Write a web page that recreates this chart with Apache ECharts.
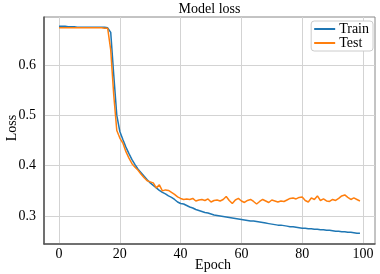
<!DOCTYPE html>
<html>
<head>
<meta charset="utf-8">
<script src="https://cdn.jsdelivr.net/npm/echarts@6/dist/echarts.min.js"></script>
<style>
  html, body { margin: 0; padding: 0; background: #fff; }
  #chart { width: 380px; height: 274px; }
</style>
</head>
<body>
<div id="chart"></div>
<script>
// loss per epoch
var trainLoss = [
  0.677, 0.677, 0.677, 0.676, 0.676, 0.676, 0.675, 0.675, 0.675, 0.675,
  0.675, 0.675, 0.675, 0.675, 0.675, 0.675, 0.674, 0.665, 0.580, 0.500,
  0.468, 0.452, 0.437, 0.424, 0.412, 0.402, 0.393, 0.386, 0.379, 0.372,
  0.366, 0.361, 0.356, 0.351, 0.347, 0.344, 0.340, 0.337, 0.333, 0.328,
  0.325, 0.324, 0.321, 0.318, 0.316, 0.313, 0.311, 0.309, 0.307, 0.306,
  0.304, 0.302, 0.301, 0.300, 0.299, 0.298, 0.297, 0.296, 0.295, 0.294,
  0.293, 0.292, 0.291, 0.290, 0.290, 0.289, 0.288, 0.287, 0.286, 0.285,
  0.284, 0.283, 0.282, 0.282, 0.281, 0.280, 0.279, 0.279, 0.278, 0.277,
  0.276, 0.276, 0.275, 0.275, 0.274, 0.274, 0.273, 0.273, 0.272, 0.272,
  0.271, 0.270, 0.270, 0.269, 0.269, 0.268, 0.268, 0.267, 0.266, 0.266
];
var testLoss = [
  0.674, 0.674, 0.674, 0.674, 0.674, 0.674, 0.674, 0.674, 0.674, 0.674,
  0.674, 0.674, 0.674, 0.674, 0.674, 0.673, 0.673, 0.630, 0.540, 0.470,
  0.455, 0.445, 0.428, 0.415, 0.404, 0.397, 0.391, 0.383, 0.376, 0.370,
  0.368, 0.366, 0.356, 0.362, 0.350, 0.352, 0.351, 0.347, 0.343, 0.338,
  0.335, 0.333, 0.334, 0.333, 0.335, 0.330, 0.332, 0.333, 0.331, 0.334,
  0.328, 0.331, 0.332, 0.330, 0.333, 0.339, 0.331, 0.325, 0.332, 0.335,
  0.330, 0.327, 0.331, 0.333, 0.329, 0.324, 0.329, 0.333, 0.330, 0.327,
  0.332, 0.330, 0.328, 0.330, 0.329, 0.332, 0.335, 0.336, 0.334, 0.337,
  0.338, 0.331, 0.328, 0.336, 0.333, 0.340, 0.331, 0.334, 0.330, 0.329,
  0.333, 0.331, 0.335, 0.340, 0.342, 0.337, 0.333, 0.336, 0.333, 0.330
];
var xTicks = [0, 20, 40, 60, 80, 100];
var yTicks = [0.3, 0.4, 0.5, 0.6];

var font = "'Liberation Serif', 'DejaVu Serif', serif";

function pairs(arr) {
  return arr.map(function (v, i) { return [i, v]; });
}

var myChart = echarts.init(document.getElementById("chart"));
var option = {
  animation: false,
  backgroundColor: "#fff",
  title: {
    text: "Model loss",
    left: 209.5,
    textAlign: "center",
    top: 2,
    padding: 0,
    textStyle: { fontFamily: font, fontSize: 14, fontWeight: "normal", color: "#000" }
  },
  legend: {
    orient: "vertical",
    right: 7,
    top: 21,
    padding: [1, 4, 1, 3],
    itemGap: 0,
    itemWidth: 21,
    itemHeight: 2,
    icon: "rect",
    backgroundColor: "#fff",
    borderColor: "#ccc",
    borderWidth: 1,
    borderRadius: 3,
    textStyle: { fontFamily: font, fontSize: 14, color: "#000", padding: [0, 0, 0, -1] },
    data: ["Train", "Test"]
  },
  grid: {
    left: 44, right: 5, top: 17, bottom: 30,
    outerBoundsMode: "none",
    show: true,
    borderColor: "#888",
    borderWidth: 1
  },
  xAxis: {
    type: "value",
    min: -4.95,
    max: 103.95,
    name: "Epoch",
    nameLocation: "middle",
    nameGap: 14,
    nameMoveOverlap: false,
    nameTextStyle: { fontFamily: font, fontSize: 14, color: "#000", align: "center", verticalAlign: "top", padding: [0, 0, 0, 7] },
    axisLine: { show: true, onZero: false, lineStyle: { color: "#555", width: 1.5 } },
    axisTick: { show: false, customValues: xTicks },
    axisLabel: { customValues: xTicks, fontFamily: font, fontSize: 14, color: "#000", margin: 3 },
    splitLine: { show: true, lineStyle: { color: "#d3d3d3", width: 1 } }
  },
  yAxis: {
    type: "value",
    min: 0.2445,
    max: 0.6955,
    name: "Loss",
    nameLocation: "middle",
    nameGap: 25,
    nameMoveOverlap: false,
    nameRotate: 90,
    nameTextStyle: { fontFamily: font, fontSize: 14, color: "#000", align: "center", verticalAlign: "bottom", padding: [0, 0, 0, 5] },
    axisLine: { show: true, onZero: false, lineStyle: { color: "#555", width: 1.5 } },
    axisTick: { show: false, customValues: yTicks },
    axisLabel: {
      customValues: yTicks,
      fontFamily: font, fontSize: 14, color: "#000", margin: 8,
      formatter: function (v) { return v.toFixed(1); }
    },
    splitLine: { show: true, lineStyle: { color: "#d3d3d3", width: 1 } }
  },
  series: [
    {
      name: "Train",
      type: "line",
      data: pairs(trainLoss),
      showSymbol: false,
      color: "#1f77b4",
      lineStyle: { width: 1.5 },
      z: 2
    },
    {
      name: "Test",
      type: "line",
      data: pairs(testLoss),
      showSymbol: false,
      color: "#ff7f0e",
      lineStyle: { width: 1.5 },
      z: 3
    }
  ]
};
myChart.setOption(option);
</script>
</body>
</html>
